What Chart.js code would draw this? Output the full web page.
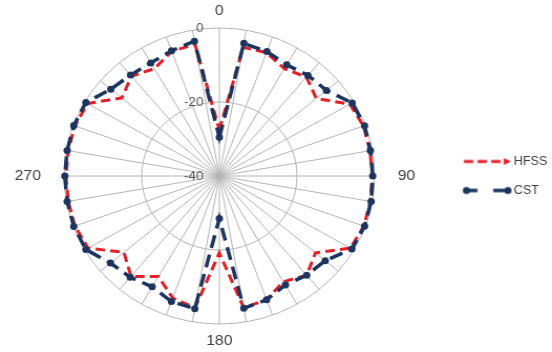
<!DOCTYPE html>
<html>
<head>
<meta charset="utf-8">
<script src="https://cdn.jsdelivr.net/npm/chart.js@4.4.1/dist/chart.umd.min.js"></script>
<style>
  html, body { margin: 0; padding: 0; background: #ffffff; }
  #plot { display: block; }
</style>
</head>
<body>
<canvas id="plot" width="526" height="352" style="width:552px;height:352px;"></canvas>
<script>
// Azimuth angles in degrees (one spoke every 10°)
const angles = [0, 10, 20, 30, 40, 50, 60, 70, 80, 90, 100, 110, 120, 130, 140, 150, 160, 170,
                180, 190, 200, 210, 220, 230, 240, 250, 260, 270, 280, 290, 300, 310, 320, 330, 340, 350];

// Normalised pattern (dB) from the two solvers
const hfss = [-27.5, -4.7, -4.5, -6.5, -5.1, -7.4, -1.2, -0.5, -0.6, -0.6, -0.5, -0.4, -1.0, -7.7, -5.0, -7.0, -4.5, -3.8,
              -19.2, -3.8, -4.9, -8.6, -4.6, -7.9, -1.0, -0.4, -0.5, -0.5, -0.5, -0.4, -0.8, -7.2, -4.8, -6.5, -4.2, -3.8];
const cst  = [-29.5, -3.6, -4.2, -5.3, -4.5, -4.0, -0.5, -0.2, -0.5, -0.5, -0.3, -0.2, -0.6, -4.4, -5.0, -6.0, -4.4, -3.7,
              -28.5, -3.6, -3.9, -5.4, -4.3, -3.4, -0.3, -0.1, -0.2, -0.2, -0.2, -0.1, -0.3, -3.5, -4.4, -4.7, -4.0, -3.0];

// Radial axis
const ringTicks = [0, -20, -40];
const shownAngles = [0, 90, 180, 270];

const RED = '#e31e26';
const NAVY = '#1c355e';

// Legend swatches: dashed line with marker, drawn with a left margin inside the image
function swatch(kind) {
  const c = document.createElement('canvas');
  c.width = 66; c.height = 10;
  const g = c.getContext('2d');
  g.translate(18.75, 0);
  g.lineCap = 'butt';
  if (kind === 'hfss') {
    g.strokeStyle = RED; g.lineWidth = 3;
    g.setLineDash([9, 4]);
    g.beginPath(); g.moveTo(1, 5); g.lineTo(41, 5); g.stroke();
    g.fillStyle = RED;
    g.beginPath(); g.moveTo(39, 1.5); g.lineTo(46, 5); g.lineTo(39, 8.5); g.closePath(); g.fill();
  } else {
    g.strokeStyle = NAVY; g.lineWidth = 3.5;
    g.beginPath(); g.moveTo(3, 5); g.lineTo(14, 5); g.moveTo(29, 5); g.lineTo(43, 5); g.stroke();
    g.fillStyle = NAVY;
    g.beginPath(); g.arc(3.5, 5, 3.5, 0, Math.PI * 2); g.fill();
    g.beginPath(); g.arc(43, 5, 3.5, 0, Math.PI * 2); g.fill();
  }
  return c;
}
const swatches = { HFSS: swatch('hfss'), CST: swatch('cst') };

// Ring values drawn just left of the vertical spoke
const ringValueLabels = {
  id: 'ringValueLabels',
  afterDraw(chart) {
    const r = chart.scales.r;
    const ctx = chart.ctx;
    ctx.save();
    ctx.font = '13px "Liberation Sans", Arial, sans-serif';
    ctx.fillStyle = '#595959';
    ctx.textAlign = 'right';
    ctx.textBaseline = 'middle';
    ringTicks.forEach(v => {
      const d = r.getDistanceFromCenterForValue(v);
      ctx.fillText(String(v), r.xCenter - 15, r.yCenter - d);
    });
    ctx.restore();
  }
};

new Chart(document.getElementById('plot'), {
  type: 'radar',
  data: {
    labels: angles,
    datasets: [
      {
        label: 'HFSS',
        data: hfss,
        order: 1,
        borderColor: RED,
        backgroundColor: RED,
        borderWidth: 3,
        borderDash: [9, 5],
        pointRadius: 0,
        fill: false,
        tension: 0
      },
      {
        label: 'CST',
        data: cst,
        order: 0,
        borderColor: NAVY,
        backgroundColor: NAVY,
        borderWidth: 3.5,
        borderDash: [13, 7],
        pointRadius: 3.5,
        pointBorderWidth: 0,
        pointBackgroundColor: NAVY,
        fill: false,
        tension: 0
      }
    ]
  },
  options: {
    responsive: false,
    devicePixelRatio: 1,
    animation: false,
    layout: { padding: 0 },
    plugins: {
      tooltip: { enabled: false },
      legend: {
        position: 'right',
        maxWidth: 116,
        labels: {
          usePointStyle: true,
          pointStyleWidth: 56.5,
          padding: 17,
          color: '#404040',
          font: { family: '"Liberation Sans", Arial, sans-serif', size: 12 },
          generateLabels(chart) {
            return chart.data.datasets.map((ds, i) => ({
              text: ds.label,
              datasetIndex: i,
              pointStyle: swatches[ds.label],
              fillStyle: ds.borderColor,
              strokeStyle: ds.borderColor,
              lineWidth: 0,
              hidden: false,
              fontColor: '#404040'
            }));
          }
        }
      }
    },
    scales: {
      r: {
        min: -40,
        max: 0,
        ticks: { stepSize: 20, display: false },
        grid: { circular: true, color: '#b4b4b4', lineWidth: 1 },
        angleLines: { display: true, color: '#b4b4b4', lineWidth: 1 },
        pointLabels: {
          display: true,
          color: '#404040',
          font: (ctx) => (shownAngles.includes(angles[ctx.index])
            ? { family: '"Liberation Sans", Arial, sans-serif', size: 15, lineHeight: 1.5 }
            : { size: 1, lineHeight: 1 }),
          padding: (ctx) => (ctx.index % 18 === 0 ? 5.5 : (ctx.index % 9 === 0 ? 22 : 0)),
          callback: (value) => (shownAngles.includes(value) ? String(value) : '')
        }
      }
    }
  },
  plugins: [ringValueLabels]
});
</script>
</body>
</html>
